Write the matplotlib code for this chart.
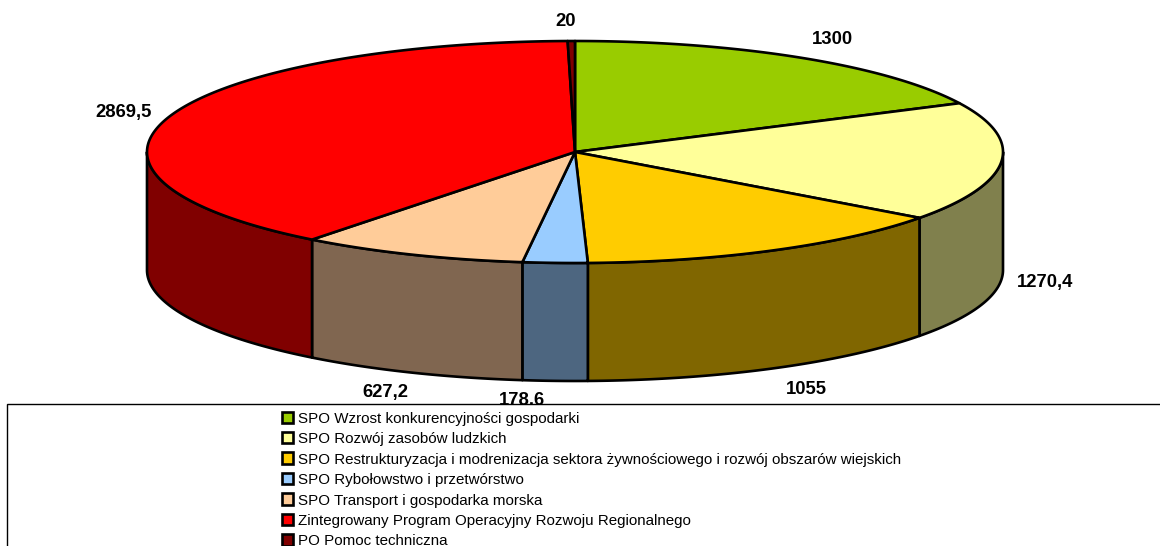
import numpy as np
import matplotlib
matplotlib.use("Agg")
import matplotlib.pyplot as plt
from matplotlib.patches import Polygon, Rectangle

plt.rcParams['font.family'] = ['Liberation Sans', 'DejaVu Sans']

categories = [
    "SPO Wzrost konkurencyjności gospodarki",
    "SPO Rozwój zasobów ludzkich",
    "SPO Restrukturyzacja i modrenizacja sektora żywnościowego i rozwój obszarów wiejskich",
    "SPO Rybołowstwo i przetwórstwo",
    "SPO Transport i gospodarka morska",
    "Zintegrowany Program Operacyjny Rozwoju Regionalnego",
    "PO Pomoc techniczna",
]
values = [1300, 1270.4, 1055, 178.6, 627.2, 2869.5, 20]
value_labels = ["1300", "1270,4", "1055", "178,6", "627,2", "2869,5", "20"]
top_colors = ["#99CC00", "#FFFF99", "#FFCC00", "#99CCFF", "#FFCC99", "#FF0000", "#800000"]
side_colors = ["#4D6600", "#80804D", "#806600", "#4D6680", "#806650", "#800000", "#400000"]
label_xy = [(832, 39), (1045, 283), (806, 389), (522, 401), (385, 393), (124, 113), (566, 22)]

W, H = 1160, 546
cx, cy, rx, ry, depth = 575, 152, 428, 111, 118
LW = 1.9

fig = plt.figure(figsize=(W / 100, H / 100), dpi=100, facecolor="white")
ax = fig.add_axes([0, 0, 1, 1])
ax.set_xlim(0, W)
ax.set_ylim(H, 0)
ax.axis("off")


def rim(theta, dy=0.0):
    return np.column_stack([cx + rx * np.sin(theta), cy - ry * np.cos(theta) + dy])


edges = np.deg2rad(np.concatenate([[0], np.cumsum(values)]) / np.sum(values) * 360)

# value labels (the legend box later covers the part that runs into it)
for (x, y), s in zip(label_xy, value_labels):
    ax.text(x, y, s, fontsize=13.3, fontweight="bold", ha="center", va="center", color="black", zorder=1)

# side walls: only the front half of the rim is visible
for a, b, c in zip(edges[:-1], edges[1:], side_colors):
    lo, hi = max(a, np.pi / 2), min(b, 3 * np.pi / 2)
    if hi <= lo:
        continue
    t = np.linspace(lo, hi, 120)
    pts = np.vstack([rim(t), rim(t[::-1], depth)])
    ax.add_patch(Polygon(pts, closed=True, fc=c, ec="black", lw=LW, joinstyle="round", zorder=2))

# top faces
for a, b, c in zip(edges[:-1], edges[1:], top_colors):
    t = np.linspace(a, b, 240)
    pts = np.vstack([[cx, cy], rim(t)])
    ax.add_patch(Polygon(pts, closed=True, fc=c, ec="black", lw=LW, joinstyle="round", zorder=3))

# legend box, running off the right and bottom of the canvas
ax.add_patch(Rectangle((7, 404), W + 50, H, fc="white", ec="black", lw=1.0, zorder=4))
row_y = 418
row_step = 20.45
for i, (name, c) in enumerate(zip(categories, top_colors)):
    y = row_y + i * row_step
    ax.add_patch(Rectangle((281.5, y - 6.5), 11.5, 11.5, fc=c, ec="black", lw=LW, zorder=5))
    ax.text(298, y + 0.7, name, fontsize=10.9, ha="left", va="center", color="black", zorder=5)

fig.savefig("out.png", dpi=100)
